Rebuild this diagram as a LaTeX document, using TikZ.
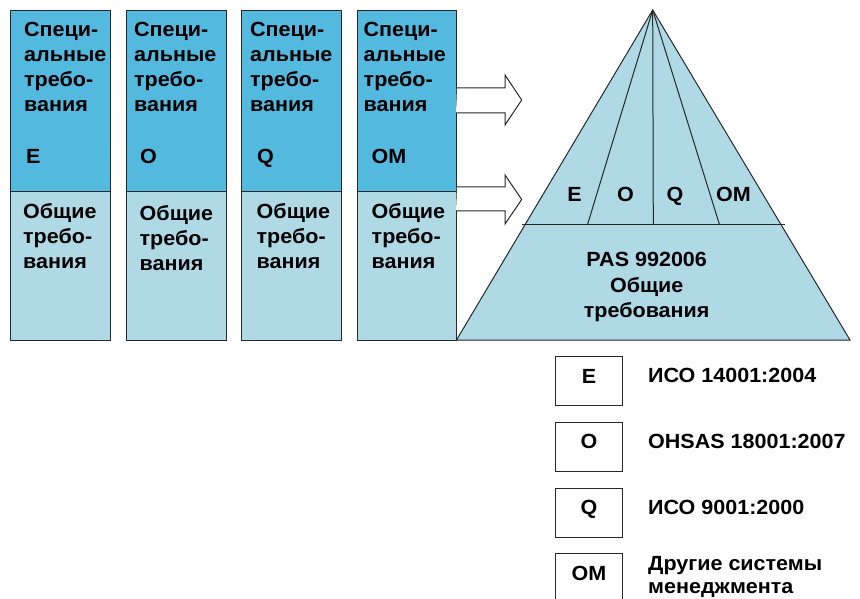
\documentclass[tikz,border=0pt]{standalone}
\usepackage{fontspec}
\setmainfont{Liberation Sans}[FakeStretch=1.05]
\definecolor{dblue}{RGB}{84,185,223}
\definecolor{lblue}{RGB}{174,217,229}
\definecolor{edge}{RGB}{40,40,40}
\begin{document}
\begin{tikzpicture}[x=1pt,y=-1pt,
  every node/.style={font=\fontsize{20.5}{25}\selectfont\bfseries, inner sep=0pt},
  topbox/.style={draw=edge, fill=dblue, line width=1pt, anchor=north west, minimum width=99.5pt, minimum height=181pt},
  lowbox/.style={draw=edge, fill=lblue, line width=1pt, anchor=north west, minimum width=99.5pt, minimum height=149pt},
  txt/.style={anchor=north west, align=left},
  letter/.style={anchor=base west},
  blockarrow/.style={draw=edge, fill=white, line width=1pt, line join=miter},
  pyr/.style={draw=edge, line width=1pt},
  legbox/.style={draw=edge, fill=white, line width=1pt, anchor=north west, minimum width=67pt, minimum height=49pt},
  legtxt/.style={anchor=base west}]
\path[use as bounding box, clip] (0,0) rectangle (860,599);
\fill[white] (0,0) rectangle (860,599);

% columns
\foreach \n/\x/\l/\tx/\lx/\bx/\by in {1/10/E/24/26/23/203, 2/126/O/134/140/139.5/205, 3/241/Q/250/257/256.5/203, 4/356.5/OM/363.5/371.5/371.5/203}{
  \node[topbox] (top\n) at (\x,10) {};
  \node[lowbox] (low\n) at (\x,191) {};
  \node[txt] (spec\n) at (\tx,22.2) {Специ-\\альные\\требо-\\вания};
  \node[letter] (let\n) at (\lx,164) {\l};
  \node[txt] (gen\n) at (\bx,\by) {Общие\\требо-\\вания};
}

% block arrows
\coordinate (a1s) at (top4.east |- 0,88);
\draw[blockarrow] (a1s) -- (505,88) -- (505,75) -- (521.7,100) -- (505,125) -- (505,113) -- (456,113);
\coordinate (a2s) at (top4.east |- 0,187);
\draw[blockarrow] (a2s) -- (505,187) -- (505,175) -- (521.7,199.5) -- (505,224) -- (505,211) -- (456,211);

% pyramid
\coordinate (apex) at (652.7,10);
\coordinate (bl) at (456.5,340);
\coordinate (br) at (850,340);
\coordinate (ml) at (521.7,224);
\coordinate (mr) at (785,224);
\coordinate (d1) at (587.7,224);
\coordinate (d2) at (653.3,224);
\coordinate (d3) at (719.3,224);
\draw[pyr, fill=lblue] (apex) -- (bl) -- (br) -- cycle;
\draw[pyr] (ml) -- (mr);
\draw[pyr] (apex) -- (d1);
\draw[pyr] (apex) -- (d2);
\draw[pyr] (apex) -- (d3);
\node[anchor=base] (pE) at (574.5,201) {E};
\node[anchor=base] (pO) at (625.5,201) {O};
\node[anchor=base] (pQ) at (675,201) {Q};
\node[anchor=base] (pOM) at (733.5,201) {OM};
\node[anchor=north, align=center, font=\fontsize{20.5}{25.5}\selectfont\bfseries] (pas) at (646.7,252.2) {PAS 992006\\Общие\\требования};

% legend
\node[legbox] (bE) at (555,356) {};
\node[legbox] (bO) at (555,422) {};
\node[legbox] (bQ) at (555,488) {};
\node[legbox] (bOM) at (555,553) {};
\node[anchor=base] (lE) at (bE.center |- 0,383) {E};
\node[anchor=base] (lO) at (bO.center |- 0,448) {O};
\node[anchor=base] (lQ) at (bQ.center |- 0,514) {Q};
\node[anchor=base] (lOM) at (bOM.center |- 0,580) {OM};
\node[legtxt] (tE) at (648,382) {ИСО 14001:2004};
\node[legtxt] (tO) at (648,448) {OHSAS 18001:2007};
\node[legtxt] (tQ) at (648,514) {ИСО 9001:2000};
\node[anchor=north west, align=left, font=\fontsize{20.5}{23}\selectfont\bfseries] (tOM) at (648,556.2) {Другие системы\\менеджмента};
\end{tikzpicture}
\end{document}
